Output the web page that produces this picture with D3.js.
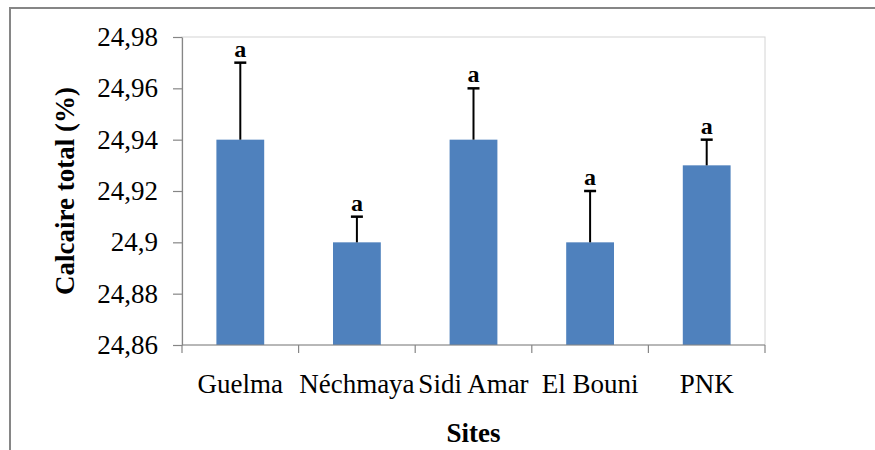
<!DOCTYPE html>
<html>
<head>
<meta charset="utf-8">
<script src="https://cdn.jsdelivr.net/npm/d3@7/dist/d3.min.js"></script>
<style>
  html, body { margin: 0; padding: 0; background: #fff; }
  svg { display: block; }
  text { font-family: "Liberation Serif", "Times New Roman", serif; fill: #000; }
</style>
</head>
<body>
<svg id="chart" width="875" height="450"></svg>
<script>
// Total limestone content per site (mean + upper error)
const sites = ["Guelma", "Néchmaya", "Sidi Amar", "El Bouni", "PNK"];
const means = [24.94, 24.90, 24.94, 24.90, 24.93];
const errors = [0.03, 0.01, 0.02, 0.02, 0.01];
const groupLetters = ["a", "a", "a", "a", "a"];
const yTickValues = [24.86, 24.88, 24.90, 24.92, 24.94, 24.96, 24.98];
const yTickLabels = ["24,86", "24,88", "24,9", "24,92", "24,94", "24,96", "24,98"];

const svg = d3.select("#chart");
const W = 875, H = 450;
const plot = { left: 182, right: 765, top: 37, bottom: 345 };
const labelSize = 27;

// Outer chart frame (runs past the right and bottom edges)
svg.append("rect")
  .attr("x", 10).attr("y", 8)
  .attr("width", W + 20).attr("height", H + 20)
  .attr("fill", "#fff")
  .attr("stroke", "#868686")
  .attr("stroke-width", 2);

const x = d3.scaleBand().domain(sites).range([plot.left, plot.right]).padding(0);
const y = d3.scaleLinear().domain([24.86, 24.98]).range([plot.bottom, plot.top]);

// Plot area border
svg.append("rect")
  .attr("x", plot.left).attr("y", plot.top)
  .attr("width", plot.right - plot.left).attr("height", plot.bottom - plot.top)
  .attr("fill", "none")
  .attr("stroke", "#d4d4d4")
  .attr("stroke-width", 1);

// Bars
const barW = x.bandwidth() * 0.41;
svg.append("g").selectAll("rect")
  .data(sites)
  .join("rect")
  .attr("x", (d) => x(d) + x.bandwidth() / 2 - barW / 2)
  .attr("y", (d, i) => y(means[i]))
  .attr("width", barW)
  .attr("height", (d, i) => y(24.86) - y(means[i]))
  .attr("fill", "#4F81BD");

// Upper error bars with caps
const eb = svg.append("g").attr("stroke", "#000");
sites.forEach((s, i) => {
  const cx = x(s) + x.bandwidth() / 2;
  const top = y(means[i] + errors[i]);
  eb.append("line").attr("stroke-width", 2)
    .attr("x1", cx).attr("x2", cx).attr("y1", y(means[i])).attr("y2", top);
  eb.append("line").attr("stroke-width", 2.5)
    .attr("x1", cx - 6).attr("x2", cx + 6).attr("y1", top).attr("y2", top);
  svg.append("text")
    .attr("x", cx).attr("y", top - 6)
    .attr("text-anchor", "middle")
    .attr("font-weight", "bold")
    .attr("font-size", 24)
    .text(groupLetters[i]);
});

// Y axis
const yAxis = d3.axisLeft(y)
  .tickValues(yTickValues)
  .tickFormat((d, i) => yTickLabels[i])
  .tickSize(9)
  .tickSizeOuter(0)
  .tickPadding(15);
const gy = svg.append("g").attr("transform", `translate(${plot.left},0)`).call(yAxis);
gy.selectAll("path, line").attr("stroke", "#868686").attr("stroke-width", 1.2);
gy.selectAll("text").attr("font-size", labelSize).attr("font-family", "'Liberation Serif', 'Times New Roman', serif").attr("fill", "#000");

// X axis: ticks at category boundaries
const gx = svg.append("g");
gx.append("line")
  .attr("x1", plot.left).attr("x2", plot.right)
  .attr("y1", plot.bottom).attr("y2", plot.bottom)
  .attr("stroke", "#868686").attr("stroke-width", 1.2);
const bounds = sites.map((s) => x(s)).concat([plot.right]);
gx.selectAll("line.tick")
  .data(bounds)
  .join("line")
  .attr("class", "tick")
  .attr("x1", (d) => d).attr("x2", (d) => d)
  .attr("y1", plot.bottom).attr("y2", plot.bottom + 8)
  .attr("stroke", "#868686").attr("stroke-width", 1.2);
gx.selectAll("text")
  .data(sites)
  .join("text")
  .attr("x", (d) => x(d) + x.bandwidth() / 2)
  .attr("y", 393)
  .attr("text-anchor", "middle")
  .attr("font-size", labelSize)
  .text((d) => d);

// Axis titles
svg.append("text")
  .attr("x", (plot.left + plot.right) / 2)
  .attr("y", 442)
  .attr("text-anchor", "middle")
  .attr("font-weight", "bold")
  .attr("font-size", labelSize)
  .text("Sites");

svg.append("text")
  .attr("transform", `translate(74,${(plot.top + plot.bottom) / 2}) rotate(-90)`)
  .attr("text-anchor", "middle")
  .attr("font-weight", "bold")
  .attr("font-size", labelSize)
  .text("Calcaire total (%)");
</script>
</body>
</html>
